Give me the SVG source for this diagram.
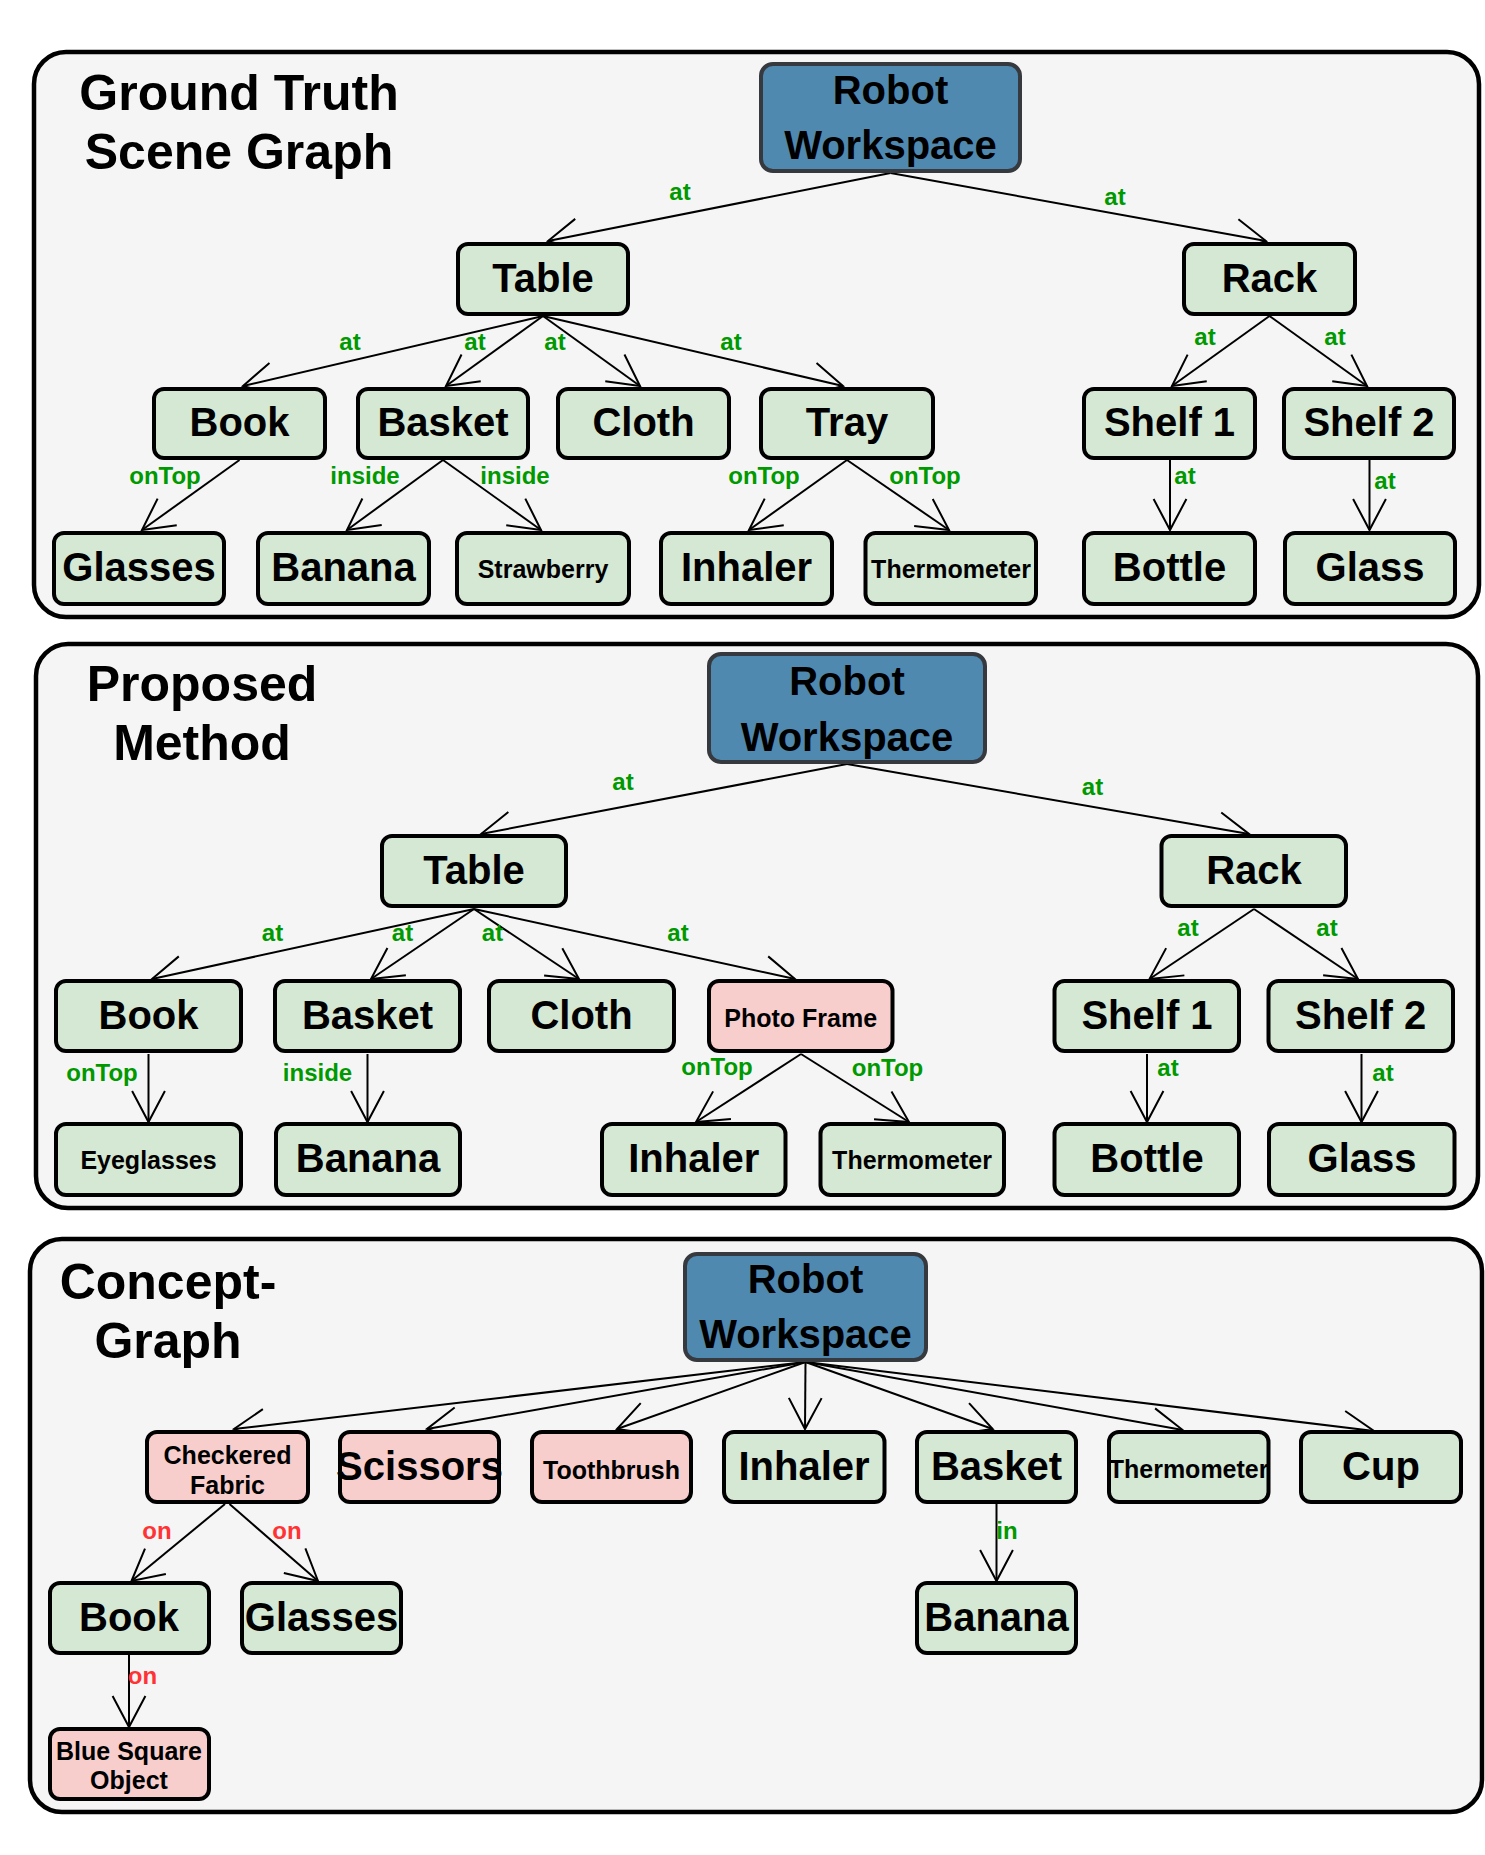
<svg xmlns="http://www.w3.org/2000/svg" width="1485" height="1855" viewBox="0 0 1485 1855">
<style>
.panel{fill:#f5f5f5;stroke:#000;stroke-width:4.5}
.n{fill:#d5e8d4;stroke:#000;stroke-width:4}
.p{fill:#f8cecc;stroke:#000;stroke-width:4}
.rw{fill:#5089b0;stroke:#36393d;stroke-width:4}
text{font-family:"Liberation Sans",Arial,Helvetica,sans-serif;font-weight:bold;text-anchor:middle}
.t{font-size:40px;fill:#000}
.s{font-size:25px;fill:#000}
.ti{font-size:50px;fill:#000}
.g{font-size:24px;fill:#009900}
.r{font-size:24px;fill:#ff3333}
.e line{stroke:#000;stroke-width:2;marker-end:url(#arr)}
</style>
<defs>
<marker id="arr" markerUnits="userSpaceOnUse" viewBox="-36 -20 40 40" refX="0" refY="0" markerWidth="40" markerHeight="40" orient="auto" overflow="visible">
<path d="M-31,-16.4 L0,0 L-31,16.4" fill="none" stroke="#000" stroke-width="2"/>
</marker>
</defs>
<rect width="1485" height="1855" fill="#fff"/>

<!-- Panel 1 -->
<g id="panel1">
<rect class="panel" x="34" y="52" width="1445" height="565" rx="32"/>
<text class="ti" x="239" y="110">Ground Truth</text>
<text class="ti" x="239" y="169">Scene Graph</text>
</g>
<g id="p1-connectors" class="e">
<line x1="890.5" y1="173" x2="548" y2="241"/>
<line x1="890.5" y1="173" x2="1266" y2="241"/>
<line x1="543" y1="316" x2="243" y2="386"/>
<line x1="543" y1="316" x2="446" y2="386"/>
<line x1="543" y1="316" x2="640" y2="386"/>
<line x1="543" y1="316" x2="843" y2="386"/>
<line x1="1269.5" y1="316" x2="1172" y2="386"/>
<line x1="1269.5" y1="316" x2="1367" y2="386"/>
<line x1="239.5" y1="460" x2="142" y2="530"/>
<line x1="443" y1="460" x2="347" y2="530"/>
<line x1="443" y1="460" x2="541" y2="530"/>
<line x1="847" y1="460" x2="749" y2="530"/>
<line x1="847" y1="460" x2="949" y2="530"/>
<line x1="1170" y1="460" x2="1170" y2="530"/>
<line x1="1369.5" y1="460" x2="1369.5" y2="530"/>
</g>
<g id="p1-labels">
<text class="g" x="680" y="200">at</text>
<text class="g" x="1115" y="205">at</text>
<text class="g" x="350" y="350">at</text>
<text class="g" x="475" y="350">at</text>
<text class="g" x="555" y="350">at</text>
<text class="g" x="731" y="350">at</text>
<text class="g" x="1205" y="345">at</text>
<text class="g" x="1335" y="345">at</text>
<text class="g" x="165" y="484">onTop</text>
<text class="g" x="365" y="484">inside</text>
<text class="g" x="515" y="484">inside</text>
<text class="g" x="764" y="484">onTop</text>
<text class="g" x="925" y="484">onTop</text>
<text class="g" x="1185" y="484">at</text>
<text class="g" x="1385" y="489">at</text>
</g>
<g id="p1-rw"><rect class="rw" x="761" y="64" width="259" height="107" rx="12"/><text class="t" x="890.5" y="104">Robot</text><text class="t" x="890.5" y="159">Workspace</text></g>
<g id="p1-table"><rect class="n" x="458" y="244" width="170" height="70" rx="10"/><text class="t" x="543" y="292">Table</text></g>
<g id="p1-rack"><rect class="n" x="1184" y="244" width="171" height="70" rx="10"/><text class="t" x="1269.5" y="292">Rack</text></g>
<g id="p1-book"><rect class="n" x="154" y="389" width="171" height="69" rx="10"/><text class="t" x="239.5" y="436">Book</text></g>
<g id="p1-basket"><rect class="n" x="358" y="389" width="170" height="69" rx="10"/><text class="t" x="443" y="436">Basket</text></g>
<g id="p1-cloth"><rect class="n" x="558" y="389" width="171" height="69" rx="10"/><text class="t" x="643.5" y="436">Cloth</text></g>
<g id="p1-tray"><rect class="n" x="761" y="389" width="172" height="69" rx="10"/><text class="t" x="847" y="436">Tray</text></g>
<g id="p1-shelf1"><rect class="n" x="1084" y="389" width="171" height="69" rx="10"/><text class="t" x="1169.5" y="436">Shelf 1</text></g>
<g id="p1-shelf2"><rect class="n" x="1284" y="389" width="170" height="69" rx="10"/><text class="t" x="1369" y="436">Shelf 2</text></g>
<g id="p1-glasses"><rect class="n" x="54" y="533" width="170" height="71" rx="10"/><text class="t" x="139" y="581">Glasses</text></g>
<g id="p1-banana"><rect class="n" x="258" y="533" width="171" height="71" rx="10"/><text class="t" x="343.5" y="581">Banana</text></g>
<g id="p1-strawberry"><rect class="n" x="457" y="533" width="172" height="71" rx="10"/><text class="s" x="543" y="578">Strawberry</text></g>
<g id="p1-inhaler"><rect class="n" x="661" y="533" width="171" height="71" rx="10"/><text class="t" x="746.5" y="581">Inhaler</text></g>
<g id="p1-thermometer"><rect class="n" x="865.5" y="533" width="170.5" height="71" rx="10"/><text class="s" x="951" y="578">Thermometer</text></g>
<g id="p1-bottle"><rect class="n" x="1084" y="533" width="171" height="71" rx="10"/><text class="t" x="1169.5" y="581">Bottle</text></g>
<g id="p1-glass"><rect class="n" x="1285" y="533" width="170" height="71" rx="10"/><text class="t" x="1370" y="581">Glass</text></g>

<!-- Panel 2 -->
<g id="panel2">
<rect class="panel" x="36" y="644" width="1442" height="564" rx="32"/>
<text class="ti" x="202" y="701">Proposed</text>
<text class="ti" x="202" y="760">Method</text>
</g>
<g id="p2-connectors" class="e">
<line x1="847" y1="764" x2="481" y2="834"/>
<line x1="847" y1="764" x2="1249" y2="834"/>
<line x1="474" y1="909" x2="152" y2="979"/>
<line x1="474" y1="909" x2="371" y2="979"/>
<line x1="474" y1="909" x2="579" y2="979"/>
<line x1="474" y1="909" x2="795" y2="979"/>
<line x1="1254" y1="909" x2="1149.5" y2="979"/>
<line x1="1254" y1="909" x2="1358" y2="979"/>
<line x1="148.5" y1="1054" x2="148.5" y2="1122"/>
<line x1="367.5" y1="1054" x2="367.5" y2="1122"/>
<line x1="801" y1="1054" x2="696" y2="1122"/>
<line x1="801" y1="1054" x2="909" y2="1122"/>
<line x1="1147" y1="1054" x2="1147" y2="1122"/>
<line x1="1361.5" y1="1054" x2="1361.5" y2="1122"/>
</g>
<g id="p2-labels">
<text class="g" x="623" y="790">at</text>
<text class="g" x="1092.5" y="795">at</text>
<text class="g" x="272.5" y="941">at</text>
<text class="g" x="402.5" y="941">at</text>
<text class="g" x="492.5" y="941">at</text>
<text class="g" x="678" y="941">at</text>
<text class="g" x="1188" y="936">at</text>
<text class="g" x="1327" y="936">at</text>
<text class="g" x="102" y="1081">onTop</text>
<text class="g" x="317.5" y="1081">inside</text>
<text class="g" x="717" y="1075">onTop</text>
<text class="g" x="887.5" y="1076">onTop</text>
<text class="g" x="1168" y="1076">at</text>
<text class="g" x="1383" y="1081">at</text>
</g>
<g id="p2-rw"><rect class="rw" x="709" y="654" width="276" height="108" rx="12"/><text class="t" x="847" y="695">Robot</text><text class="t" x="847" y="751">Workspace</text></g>
<g id="p2-table"><rect class="n" x="382" y="836" width="184" height="70" rx="10"/><text class="t" x="474" y="884">Table</text></g>
<g id="p2-rack"><rect class="n" x="1161.5" y="836" width="184.5" height="70" rx="10"/><text class="t" x="1254" y="884">Rack</text></g>
<g id="p2-book"><rect class="n" x="56" y="981" width="185" height="70" rx="10"/><text class="t" x="148.5" y="1029">Book</text></g>
<g id="p2-basket"><rect class="n" x="275" y="981" width="185" height="70" rx="10"/><text class="t" x="367.5" y="1029">Basket</text></g>
<g id="p2-cloth"><rect class="n" x="489" y="981" width="185" height="70" rx="10"/><text class="t" x="581.5" y="1029">Cloth</text></g>
<g id="p2-photoframe"><rect class="p" x="709" y="981" width="183.5" height="70" rx="10"/><text class="s" x="800.7" y="1027">Photo Frame</text></g>
<g id="p2-shelf1"><rect class="n" x="1054.5" y="981" width="184.5" height="70" rx="10"/><text class="t" x="1147" y="1029">Shelf 1</text></g>
<g id="p2-shelf2"><rect class="n" x="1268.5" y="981" width="184.5" height="70" rx="10"/><text class="t" x="1360.7" y="1029">Shelf 2</text></g>
<g id="p2-eyeglasses"><rect class="n" x="56" y="1124" width="185" height="71" rx="10"/><text class="s" x="148.5" y="1169">Eyeglasses</text></g>
<g id="p2-banana"><rect class="n" x="276" y="1124" width="184" height="71" rx="10"/><text class="t" x="368" y="1172">Banana</text></g>
<g id="p2-inhaler"><rect class="n" x="602" y="1124" width="183.5" height="71" rx="10"/><text class="t" x="693.8" y="1172">Inhaler</text></g>
<g id="p2-thermometer"><rect class="n" x="820.5" y="1124" width="183.5" height="71" rx="10"/><text class="s" x="912" y="1169">Thermometer</text></g>
<g id="p2-bottle"><rect class="n" x="1054.5" y="1124" width="184.5" height="71" rx="10"/><text class="t" x="1147" y="1172">Bottle</text></g>
<g id="p2-glass"><rect class="n" x="1269" y="1124" width="185.5" height="71" rx="10"/><text class="t" x="1362" y="1172">Glass</text></g>

<!-- Panel 3 -->
<g id="panel3">
<rect class="panel" x="30" y="1239" width="1452" height="573" rx="32"/>
<text class="ti" x="168" y="1299">Concept-</text>
<text class="ti" x="168" y="1358">Graph</text>
</g>
<g id="p3-connectors" class="e">
<line x1="805.5" y1="1362" x2="234" y2="1429"/>
<line x1="805.5" y1="1362" x2="427" y2="1429"/>
<line x1="805.5" y1="1362" x2="617" y2="1429"/>
<line x1="805.5" y1="1362" x2="805" y2="1429"/>
<line x1="805.5" y1="1362" x2="992.7" y2="1429"/>
<line x1="805.5" y1="1362" x2="1182.7" y2="1430"/>
<line x1="805.5" y1="1362" x2="1374" y2="1431"/>
<line x1="225" y1="1504" x2="131.5" y2="1581"/>
<line x1="229.5" y1="1504" x2="318" y2="1581"/>
<line x1="129" y1="1655" x2="129" y2="1727"/>
<line x1="996.5" y1="1504" x2="996.5" y2="1581"/>
</g>
<g id="p3-labels">
<text class="r" x="157" y="1539">on</text>
<text class="r" x="287" y="1539">on</text>
<text class="r" x="142.5" y="1684">on</text>
<text class="g" x="1007" y="1539">in</text>
</g>
<g id="p3-rw"><rect class="rw" x="685" y="1254" width="241" height="106" rx="12"/><text class="t" x="805.5" y="1293">Robot</text><text class="t" x="805.5" y="1348">Workspace</text></g>
<g id="p3-checkered"><rect class="p" x="147" y="1432" width="161" height="70" rx="10"/><text class="s" x="227.5" y="1464">Checkered</text><text class="s" x="227.5" y="1494">Fabric</text></g>
<g id="p3-scissors"><rect class="p" x="340" y="1432" width="159" height="70" rx="10"/><text class="t" x="419.5" y="1480">Scissors</text></g>
<g id="p3-toothbrush"><rect class="p" x="532" y="1432" width="159" height="70" rx="10"/><text class="s" x="611.5" y="1479">Toothbrush</text></g>
<g id="p3-inhaler"><rect class="n" x="724" y="1432" width="160.5" height="70" rx="10"/><text class="t" x="804" y="1480">Inhaler</text></g>
<g id="p3-basket"><rect class="n" x="917" y="1432" width="159" height="70" rx="10"/><text class="t" x="996.5" y="1480">Basket</text></g>
<g id="p3-thermometer"><rect class="n" x="1109" y="1432" width="159.5" height="70" rx="10"/><text class="s" x="1188.6" y="1478">Thermometer</text></g>
<g id="p3-cup"><rect class="n" x="1301" y="1432" width="160" height="70" rx="10"/><text class="t" x="1381" y="1480">Cup</text></g>
<g id="p3-book"><rect class="n" x="50" y="1583" width="159" height="70" rx="10"/><text class="t" x="129" y="1631">Book</text></g>
<g id="p3-glasses"><rect class="n" x="242" y="1583" width="159" height="70" rx="10"/><text class="t" x="321.5" y="1631">Glasses</text></g>
<g id="p3-banana"><rect class="n" x="917" y="1583" width="159" height="70" rx="10"/><text class="t" x="996.5" y="1631">Banana</text></g>
<g id="p3-bluesquare"><rect class="p" x="50" y="1729" width="159" height="70" rx="10"/><text class="s" x="129" y="1760">Blue Square</text><text class="s" x="129" y="1789">Object</text></g>
</svg>
